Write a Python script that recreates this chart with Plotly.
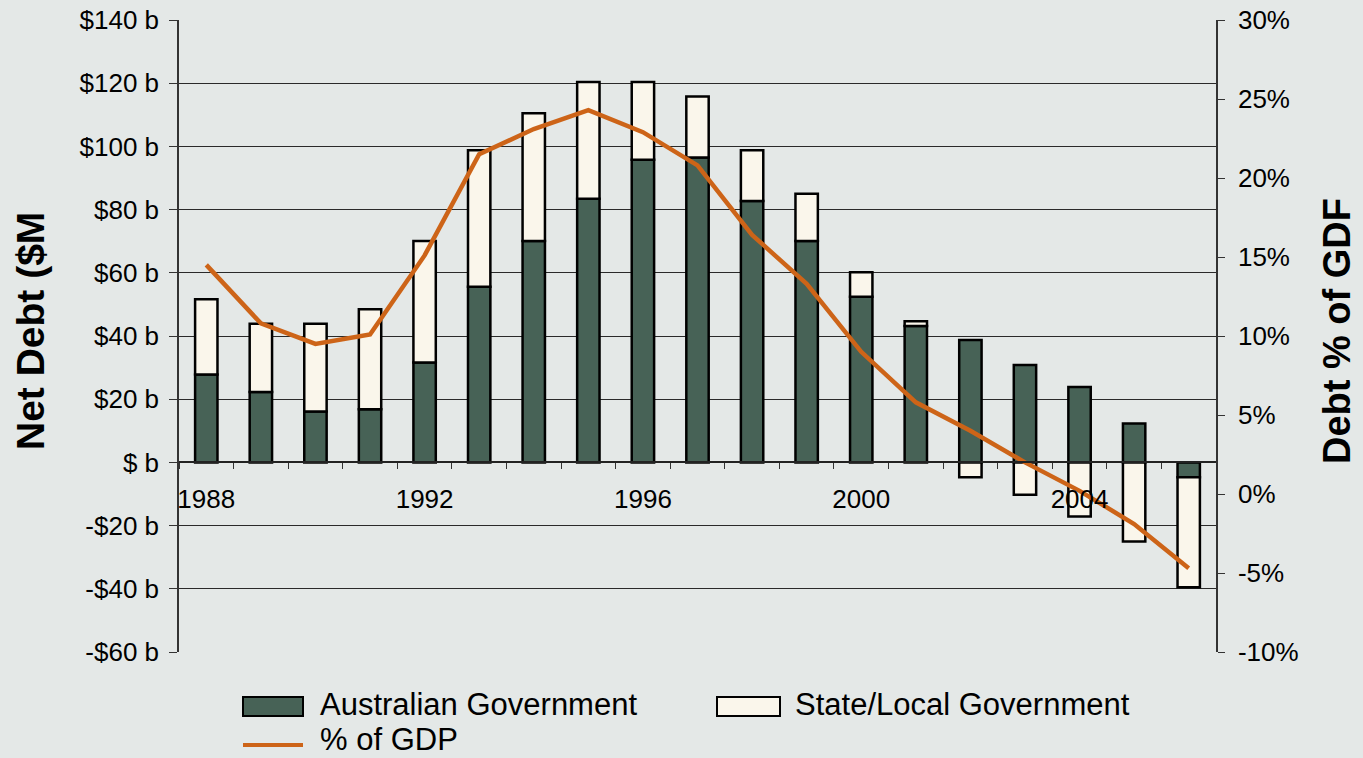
import plotly.graph_objects as go

years = list(range(1988, 2007))
australian_gov = [27.8, 22.3, 16.1, 16.8, 31.6, 55.6, 70.1, 83.4, 95.8, 96.5,
                  82.7, 70.1, 52.4, 43.2, 38.7, 30.8, 23.9, 12.3, -4.7]
state_local_gov = [23.8, 21.6, 27.8, 31.7, 38.5, 43.2, 40.4, 37.0, 24.6, 19.3,
                   16.1, 14.9, 7.8, 1.5, -4.7, -10.2, -17.1, -25.0, -34.8]
pct_gdp = [14.5, 10.8, 9.5, 10.1, 15.1, 21.5, 23.1, 24.3, 22.9, 20.8,
           16.4, 13.3, 9.0, 5.8, 4.0, 2.0, 0.2, -1.9, -4.7]

left_tickvals = [-60, -40, -20, 0, 20, 40, 60, 80, 100, 120, 140]
left_ticktext = ["-$60 b", "-$40 b", "-$20 b", "$ b", "$20 b", "$40 b", "$60 b",
                 "$80 b", "$100 b", "$120 b", "$140 b"]
right_tickvals = [-10, -5, 0, 5, 10, 15, 20, 25, 30]
right_ticktext = ["-10%", "-5%", "0%", "5%", "10%", "15%", "20%", "25%", "30%"]
x_label_years = [1988, 1992, 1996, 2000, 2004]

BG = "#E4E8E7"
AG_COL = "#476256"
ST_COL = "#FAF6EB"
LINE_COL = "#CD6418"
FONT = "Liberation Sans, Arial, sans-serif"

W, H = 1363, 758
L, R, T, B = 179, 1216, 20, 652


def px(x):
    return (x - L) / (R - L)


def py(y):
    return (B - y) / (B - T)


fig = go.Figure()
fig.add_trace(go.Bar(x=years, y=australian_gov, name="Australian Government",
                     marker=dict(color=AG_COL, line=dict(color="#000000", width=2.5)),
                     width=0.41, yaxis="y"))
fig.add_trace(go.Bar(x=years, y=state_local_gov, name="State/Local Government",
                     marker=dict(color=ST_COL, line=dict(color="#000000", width=2.5)),
                     width=0.41, yaxis="y"))
fig.add_trace(go.Scatter(x=years, y=pct_gdp, name="% of GDP", mode="lines",
                         line=dict(color=LINE_COL, width=4.5), yaxis="y2"))

boundaries = [y - 0.5 for y in years] + [years[-1] + 0.5]

fig.update_layout(
    width=W, height=H,
    margin=dict(l=L, r=W - R, t=T, b=H - B, autoexpand=False),
    paper_bgcolor=BG, plot_bgcolor=BG,
    barmode="relative",
    showlegend=False,
    font=dict(family=FONT, size=26, color="#000000"),
    xaxis=dict(
        range=[1987.5, 2006.5],
        anchor="free", position=0.3, automargin=False,
        tickmode="array", tickvals=x_label_years,
        ticks="", showgrid=False, zeroline=False,
        showline=True, linecolor="#222222", linewidth=1.5,
        ticklabelstandoff=14,
        tickfont=dict(size=26),
        minor=dict(tickmode="array", tickvals=boundaries, ticks="outside",
                   ticklen=6, tickwidth=1, tickcolor="#333333", showgrid=False),
    ),
    yaxis=dict(
        range=[-60, 140], tickmode="array", tickvals=left_tickvals, automargin=False,
        ticktext=left_ticktext, ticks="outside", ticklen=8, tickcolor="#333333",
        showline=True, linecolor="#333333", linewidth=1.5,
        showgrid=True, gridcolor="#2a2a2a", gridwidth=1,
        zeroline=False, ticklabelstandoff=5,
        tickfont=dict(size=26),
    ),
    yaxis2=dict(
        range=[-10, 30], overlaying="y", side="right", anchor="x", automargin=False,
        tickmode="array", tickvals=right_tickvals, ticktext=right_ticktext,
        ticks="outside", ticklen=7, tickcolor="#333333",
        showline=True, linecolor="#333333", linewidth=1.5,
        showgrid=False, zeroline=False, ticklabelstandoff=8,
        tickfont=dict(size=26),
    ),
)

# axis titles
fig.add_annotation(text="<b>Net Debt ($M</b>", x=px(30), y=py(331), xref="paper", yref="paper",
                   textangle=-90, showarrow=False, font=dict(size=39, family=FONT),
                   xanchor="center", yanchor="middle")
fig.add_annotation(text="<b>Debt % of GDF</b>", x=px(1337), y=py(331), xref="paper", yref="paper",
                   textangle=-90, showarrow=False, font=dict(size=38, family=FONT),
                   xanchor="center", yanchor="middle")

# legend
shapes = [
    dict(type="rect", xref="paper", yref="paper", x0=px(243), x1=px(303), y0=py(697), y1=py(716),
         fillcolor=AG_COL, line=dict(color="#000000", width=2)),
    dict(type="rect", xref="paper", yref="paper", x0=px(717), x1=px(780), y0=py(697), y1=py(716),
         fillcolor=ST_COL, line=dict(color="#000000", width=2)),
    dict(type="line", xref="paper", yref="paper", x0=px(243), x1=px(303), y0=py(745), y1=py(745),
         line=dict(color=LINE_COL, width=4)),
]
fig.update_layout(shapes=shapes)
for label, xx, yy in [("Australian Government", 318, 704),
                      ("State/Local Government", 793, 704),
                      ("% of GDP", 318, 739)]:
    fig.add_annotation(text=label, x=px(xx), y=py(yy), xref="paper", yref="paper",
                       showarrow=False, xanchor="left", yanchor="middle",
                       font=dict(size=31, family=FONT))

fig.write_html("out.html")
